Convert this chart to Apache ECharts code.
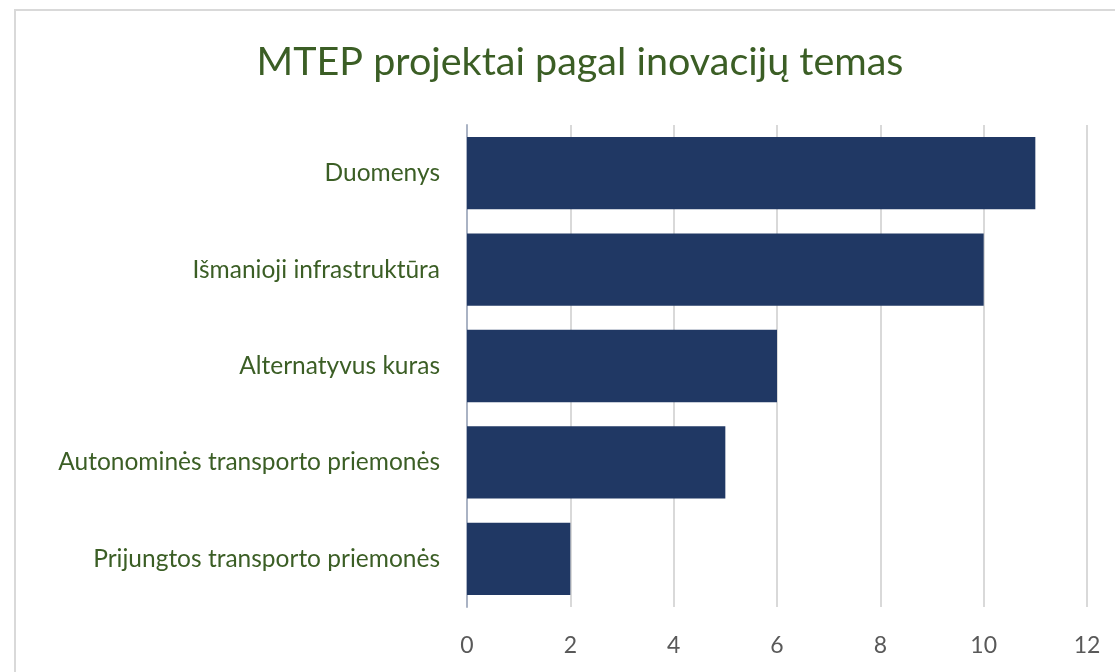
<!DOCTYPE html>
<html>
<head>
<meta charset="utf-8">
<script src="https://cdn.jsdelivr.net/npm/echarts@6/dist/echarts.min.js"></script>
<style>
  html, body { margin: 0; padding: 0; background: #fff; }
  #frame { position: absolute; left: 14px; top: 9px; width: 1200px; height: 800px;
           border-left: 2px solid #d9d9d9; border-top: 2px solid #d9d9d9; }
  #chart { position: absolute; left: 0; top: 0; width: 1115px; height: 672px; }
</style>
</head>
<body>
<div id="frame"></div>
<div id="chart"></div>
<script>
// temos (iš viršaus į apačią)
var categories = ['Duomenys', 'Išmanioji infrastruktūra', 'Alternatyvus kuras',
    'Autonominės transporto priemonės', 'Prijungtos transporto priemonės'];
var values = [11, 10, 6, 5, 2];
var xTicks = [0, 2, 4, 6, 8, 10, 12];

var chart = echarts.init(document.getElementById('chart'));

var option = {
    backgroundColor: 'transparent',
    title: {
        text: 'MTEP projektai pagal inovacijų temas',
        left: 575,
        top: 37,
        textAlign: 'center',
        textStyle: { color: '#3b5e25', fontSize: 39.5, fontWeight: 'normal', fontFamily: 'Lato' }
    },
    grid: { left: 467, right: 28, top: 125, bottom: 65 },
    xAxis: {
        type: 'value',
        min: xTicks[0],
        max: xTicks[xTicks.length - 1],
        interval: 2,
        axisLine: { show: false },
        axisTick: { show: false },
        splitLine: { lineStyle: { color: '#d9d9d9', width: 2 } },
        axisLabel: { color: '#595959', fontSize: 23, fontFamily: 'Lato', margin: 27 }
    },
    yAxis: {
        type: 'category',
        inverse: true,
        data: categories,
        axisLine: { show: true, lineStyle: { color: '#aab3c4', width: 2 } },
        axisTick: { show: false },
        axisLabel: { color: '#3b5e25', fontSize: 24.5, fontFamily: 'Lato', margin: 27 }
    },
    series: [{
        type: 'bar',
        data: values,
        barCategoryGap: '25%',
        itemStyle: { color: '#203864' }
    }]
};

chart.setOption(option);
</script>
</body>
</html>
